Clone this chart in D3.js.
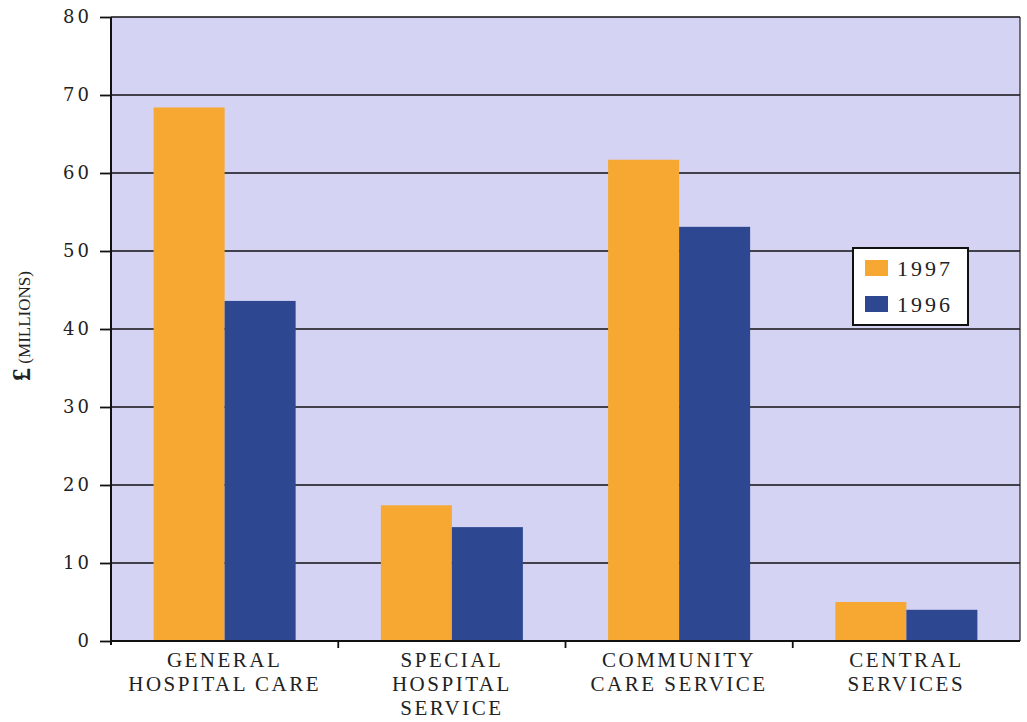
<!DOCTYPE html>
<html><head><meta charset="utf-8">
<script src="https://cdn.jsdelivr.net/npm/d3@7/dist/d3.min.js"></script>
<style>body{margin:0;background:#fff}</style>
</head><body><svg id="c" width="1027" height="722"></svg>
<script>
const categories = [["GENERAL","HOSPITAL CARE"],["SPECIAL","HOSPITAL","SERVICE"],["COMMUNITY","CARE SERVICE"],["CENTRAL","SERVICES"]];
const seriesNames = ["1997","1996"];
const values1997 = [68.4, 17.4, 61.7, 5.0];
const values1996 = [43.6, 14.6, 53.1, 4.0];
const yTicks = [0,10,20,30,40,50,60,70,80];
const colors = ["#f6a833","#2d4891"];

const svg = d3.select("#c");
const L = 111, R = 1020, T = 17, B = 641;
const x = d3.scaleBand().domain(d3.range(categories.length)).range([L, R]).paddingInner(0).paddingOuter(0);
const xs = d3.scaleBand().domain(seriesNames).range([0, x.bandwidth()]).paddingInner(0).paddingOuter(0.6);
const y = d3.scaleLinear().domain([0,80]).range([B, T]);

svg.append("rect").attr("x",L).attr("y",T).attr("width",R-L).attr("height",B-T).attr("fill","#d5d3f3");

// grid
svg.append("g").selectAll("line").data(yTicks.filter(d=>d>0)).join("line")
  .attr("x1",L).attr("x2",R).attr("y1",d=>y(d)).attr("y2",d=>y(d))
  .attr("stroke","#111").attr("stroke-width",1.5);
svg.append("line").attr("x1",R).attr("x2",R).attr("y1",T).attr("y2",B).attr("stroke","#222").attr("stroke-width",1.2);

// bars
const data = categories.map((c,i)=>[values1997[i], values1996[i]]);
const g = svg.append("g");
data.forEach((vals,i)=>{
  vals.forEach((v,j)=>{
    g.append("rect").attr("x", x(i)+xs(seriesNames[j])).attr("width", xs.bandwidth())
      .attr("y", y(v)).attr("height", y(0)-y(v)).attr("fill", colors[j]);
  });
});

// y axis
const ya = d3.axisLeft(y).tickValues(yTicks).tickSize(11).tickPadding(8);
const yg = svg.append("g").attr("transform",`translate(${L},0)`).call(ya);
yg.select(".domain").attr("stroke","#111").attr("stroke-width",2).attr("d",`M0,${T}V${B+4}`);
yg.selectAll(".tick line").attr("stroke","#111").attr("stroke-width",1.8);
yg.selectAll(".tick text").attr("font-family","DejaVu Serif").attr("font-size",18).attr("fill","#222").attr("letter-spacing",3);

// x axis
const xa = d3.axisBottom(x).tickSize(0).tickFormat("");
const xg = svg.append("g").attr("transform",`translate(0,${B})`).call(xa);
xg.select(".domain").attr("stroke","#111").attr("stroke-width",1.8).attr("d",`M${L},0H${R}`);
svg.append("g").selectAll("line").data(d3.range(1,categories.length)).join("line")
  .attr("x1",d=>x(d)).attr("x2",d=>x(d)).attr("y1",B).attr("y2",B+7).attr("stroke","#111").attr("stroke-width",1.8);

const lab = svg.append("g");
categories.forEach((lines,i)=>{
  lines.forEach((t,k)=>{
    lab.append("text").attr("x", x(i)+x.bandwidth()/2).attr("y", 667+k*24)
      .attr("text-anchor","middle").attr("font-family","Liberation Serif").attr("font-size",21)
      .attr("letter-spacing",2.5).attr("fill","#222").text(t);
  });
});

// y label
const yl = svg.append("text").attr("transform","translate(30,326) rotate(-90)").attr("text-anchor","middle")
  .attr("font-family","Liberation Serif").attr("fill","#222");
yl.append("tspan").attr("font-size",26).attr("font-weight","bold").text("£");
yl.append("tspan").attr("font-size",17).text(" (MILLIONS)");

// legend
const lg = svg.append("g").attr("transform","translate(853,248)");
lg.append("rect").attr("width",115).attr("height",77).attr("fill","#fff").attr("stroke","#111").attr("stroke-width",2);
seriesNames.forEach((s,j)=>{
  lg.append("rect").attr("x",12).attr("y",12+j*36).attr("width",23).attr("height",16).attr("fill",colors[j]);
  lg.append("text").attr("x",44).attr("y",28+j*36).attr("font-family","Liberation Serif").attr("font-size",22)
    .attr("letter-spacing",3).attr("fill","#222").text(s);
});
</script></body></html>
